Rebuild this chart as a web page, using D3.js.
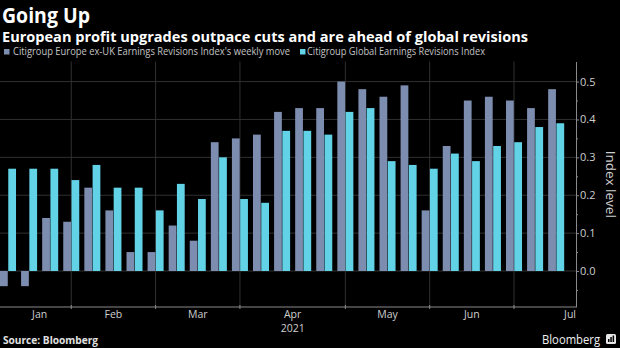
<!DOCTYPE html>
<html>
<head>
<meta charset="utf-8">
<script src="https://cdn.jsdelivr.net/npm/d3@7"></script>
<style>
  body { margin: 0; background: #000; }
  svg { display: block; font-family: "Open Sans", "DejaVu Sans", sans-serif; }
</style>
</head>
<body>
<div id="chart"></div>
<script>
// weekly readings, one per Friday
var weeks = [
    "2021-01-15", "2021-01-22", "2021-01-29",
    "2021-02-05", "2021-02-12", "2021-02-19", "2021-02-26",
    "2021-03-05", "2021-03-12", "2021-03-19", "2021-03-26",
    "2021-04-02", "2021-04-09", "2021-04-16", "2021-04-23", "2021-04-30",
    "2021-05-07", "2021-05-14", "2021-05-21", "2021-05-28",
    "2021-06-04", "2021-06-11", "2021-06-18", "2021-06-25",
    "2021-07-02", "2021-07-09", "2021-07-16"
];
var europeMove = [
    -0.04, -0.04, 0.14,
    0.13, 0.22, 0.16, 0.05,
    0.05, 0.12, 0.08, 0.34,
    0.35, 0.36, 0.42, 0.43, 0.43,
    0.50, 0.48, 0.46, 0.49,
    0.16, 0.33, 0.45, 0.46,
    0.45, 0.43, 0.48
];
var globalIndex = [
    0.27, 0.27, 0.27,
    0.24, 0.28, 0.22, 0.22,
    0.16, 0.23, 0.19, 0.30,
    0.19, 0.18, 0.37, 0.37, 0.36,
    0.42, 0.43, 0.29, 0.28,
    0.27, 0.31, 0.29, 0.33,
    0.34, 0.38, 0.39
];
var seriesNames = [
    "Citigroup Europe ex-UK Earnings Revisions Index's weekly move",
    "Citigroup Global Earnings Revisions Index"
];
var yTicks = [0, 0.1, 0.2, 0.3, 0.4, 0.5];
var yMinorTicks = [-0.05, 0.05, 0.15, 0.25, 0.35, 0.45];

createChart();

function createChart() {
    var width = 620;
    var height = 348;
    var plot = { left: 0, right: 576, top: 61.5, bottom: 307 };
    var colors = ["#7d8db0", "#62d3e6"];
    var textColor = "#cfcfcf";
    var gridColor = "#303030";
    var axisColor = "#8a8a8a";

    var svg = d3.select("#chart").append("svg")
        .attr("width", width)
        .attr("height", height);

    svg.append("rect").attr("width", width).attr("height", height).attr("fill", "#000");

    var parse = d3.timeParse("%Y-%m-%d");
    var monthFmt = d3.timeFormat("%b");
    var dates = weeks.map(parse);

    // one band per week, the two series side by side inside it
    var x = d3.scaleBand()
        .domain(weeks)
        .range([plot.left, plot.right])
        .paddingInner(0.24)
        .paddingOuter(0.28)
        .align(0);
    var xSub = d3.scaleBand()
        .domain([0, 1])
        .range([0, x.bandwidth()])
        .paddingInner(0.06);
    var y = d3.scaleLinear()
        .domain([-0.095, 0.553])
        .range([plot.bottom, plot.top]);

    // first week of every month gets a gridline
    var monthStarts = [];
    dates.forEach(function (d, i) {
        if (i === 0 || d.getMonth() !== dates[i - 1].getMonth()) monthStarts.push(i);
    });
    var center = function (i) { return x(weeks[i]) + x.bandwidth() / 2; };

    // grid
    svg.append("g").selectAll("line")
        .data(yTicks)
        .enter().append("line")
        .attr("x1", plot.left).attr("x2", plot.right)
        .attr("y1", function (d) { return y(d); })
        .attr("y2", function (d) { return y(d); })
        .attr("stroke", gridColor);
    svg.append("g").selectAll("line")
        .data(monthStarts.slice(1))
        .enter().append("line")
        .attr("x1", center).attr("x2", center)
        .attr("y1", plot.top).attr("y2", plot.bottom)
        .attr("stroke", gridColor);

    // bars
    var series = [europeMove, globalIndex];
    series.forEach(function (values, s) {
        svg.append("g").selectAll("rect")
            .data(values)
            .enter().append("rect")
            .attr("x", function (d, i) { return x(weeks[i]) + xSub(s); })
            .attr("width", xSub.bandwidth())
            .attr("y", function (d) { return y(Math.max(0, d)); })
            .attr("height", function (d) { return Math.abs(y(d) - y(0)); })
            .attr("fill", colors[s]);
    });

    // right axis
    var yAxis = svg.append("g")
        .attr("transform", "translate(" + plot.right + ",0)")
        .call(d3.axisRight(y).tickValues(yTicks).tickSize(3).tickSizeOuter(0).tickFormat(d3.format(".1f")));
    yAxis.select(".domain").attr("stroke", axisColor);
    yAxis.selectAll(".tick line").attr("stroke", axisColor);
    yAxis.selectAll(".tick text")
        .attr("x", 4)
        .attr("fill", textColor)
        .style("font-size", "11px")
        .style("font-family", "'Open Sans', sans-serif");
    var yMinor = svg.append("g")
        .attr("transform", "translate(" + plot.right + ",0)")
        .call(d3.axisRight(y).tickValues(yMinorTicks).tickSize(2).tickSizeOuter(0).tickFormat(""));
    yMinor.select(".domain").remove();
    yMinor.selectAll(".tick line").attr("stroke", axisColor);

    svg.append("text")
        .attr("transform", "translate(606," + ((plot.top + plot.bottom) / 2) + ") rotate(90)")
        .attr("text-anchor", "middle")
        .attr("fill", textColor)
        .style("font-size", "13.5px")
        .text("Index level");

    // bottom axis
    var xAxis = svg.append("g")
        .attr("transform", "translate(0," + plot.bottom + ")")
        .call(d3.axisBottom(x)
            .tickValues(monthStarts.slice(1).map(function (i) { return weeks[i]; }))
            .tickSize(2)
            .tickSizeOuter(0)
            .tickFormat(""));
    xAxis.select(".domain").attr("stroke", axisColor).attr("d", "M" + plot.left + ",0H" + plot.right);
    xAxis.selectAll(".tick line").attr("stroke", axisColor).attr("y1", -2);

    // month names sit between the gridlines, the last one flush with the axis end
    var monthLabels = monthStarts.map(function (start, k) {
        var last = k === monthStarts.length - 1;
        var next = last ? null : monthStarts[k + 1];
        return {
            name: monthFmt(dates[start]),
            x: last ? plot.right : (center(start) + center(next)) / 2,
            anchor: last ? "end" : "middle"
        };
    });
    svg.append("g").selectAll("text")
        .data(monthLabels)
        .enter().append("text")
        .attr("x", function (d) { return d.x; })
        .attr("y", 318)
        .attr("text-anchor", function (d) { return d.anchor; })
        .attr("fill", textColor)
        .style("font-size", "10.5px")
        .text(function (d) { return d.name; });
    var mid = monthLabels[Math.floor(monthLabels.length / 2)];
    svg.append("text")
        .attr("x", mid.x)
        .attr("y", 331.5)
        .attr("text-anchor", "middle")
        .attr("fill", textColor)
        .style("font-size", "10.5px")
        .text(d3.timeFormat("%Y")(dates[0]));

    // headline
    svg.append("text")
        .attr("x", 2).attr("y", 23)
        .attr("fill", "#fff")
        .attr("textLength", 88).attr("lengthAdjust", "spacingAndGlyphs")
        .style("font-size", "21px").style("font-weight", "bold")
        .text("Going Up");
    svg.append("text")
        .attr("x", 2).attr("y", 41.5)
        .attr("fill", "#fff")
        .attr("textLength", 526).attr("lengthAdjust", "spacingAndGlyphs")
        .style("font-size", "14px").style("font-weight", "bold")
        .text("European profit upgrades outpace cuts and are ahead of global revisions");

    // legend
    var legendPos = [{ box: 4, text: 13, len: 277 }, { box: 300, text: 307, len: 178 }];
    seriesNames.forEach(function (name, s) {
        svg.append("rect")
            .attr("x", legendPos[s].box).attr("y", 49)
            .attr("width", 5.5).attr("height", 5.5)
            .attr("fill", colors[s]);
        svg.append("text")
            .attr("x", legendPos[s].text).attr("y", 55)
            .attr("fill", "#c4c4c4")
            .attr("textLength", legendPos[s].len).attr("lengthAdjust", "spacingAndGlyphs")
            .style("font-size", "10px")
            .text(name);
    });

    // footer
    svg.append("text")
        .attr("x", 3).attr("y", 344)
        .attr("fill", "#e0e0e0")
        .attr("textLength", 95).attr("lengthAdjust", "spacingAndGlyphs")
        .style("font-size", "10px").style("font-weight", "bold")
        .text("Source: Bloomberg");
    svg.append("text")
        .attr("x", 542).attr("y", 344)
        .attr("fill", "#f0f0f0")
        .attr("textLength", 58).attr("lengthAdjust", "spacingAndGlyphs")
        .style("font-size", "13px")
        .text("Bloomberg");
    var logo = svg.append("g").attr("transform", "translate(606,334)");
    logo.append("rect").attr("width", 10).attr("height", 10).attr("rx", 1.5).attr("fill", "#e8e8e8");
    [[2, 5, 1.5, 3], [4.3, 3, 1.5, 5], [6.6, 1.5, 1.5, 6.5]].forEach(function (b) {
        logo.append("rect").attr("x", b[0]).attr("y", b[1]).attr("width", b[2]).attr("height", b[3]).attr("fill", "#000");
    });
}
</script>
</body>
</html>
